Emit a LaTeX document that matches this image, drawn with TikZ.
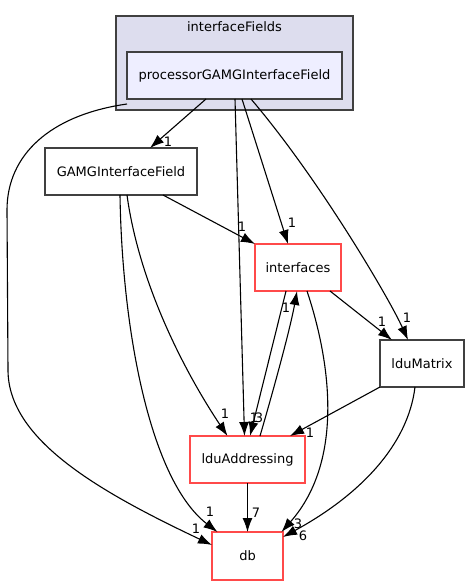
\documentclass[tikz,border=0pt]{standalone}
\usepackage{fontspec}
\setmainfont{DejaVu Sans}
\usetikzlibrary{arrows.meta}
\definecolor{clusterfill}{HTML}{DDDDEE}
\definecolor{procfill}{HTML}{EEEEFF}
\definecolor{boxgray}{HTML}{404040}
\definecolor{boxred}{HTML}{FF4A4A}

\begin{document}
\begin{tikzpicture}[x=1pt, y=-1pt,
	font=\fontsize{13}{15}\selectfont,
	dirbox/.style={draw=boxgray, line width=1.4pt, fill=white, minimum height=47pt, inner sep=0pt, outer sep=0pt},
	redbox/.style={dirbox, draw=boxred},
	lbl/.style={inner sep=0pt, font=\fontsize{13}{15}\selectfont},
	dep/.style={line width=1.1pt, -{Latex[length=14pt, width=10pt]}}]
\useasboundingbox (0,0) rectangle (470,585);

%%%%------------Cluster interfaceFields----------------%%
\node [dirbox, fill=clusterfill, minimum width=237pt, minimum height=94pt] (cluster) at (234.5,63) {}	;
\node at (234.5,27) {interfaceFields}						;
\node [dirbox, fill=procfill, minimum width=215pt] (proc) at (234.5,75.5) {processorGAMGInterfaceField}	;

%%%%------------Mapper----------------%%
\node [dirbox, minimum width=152pt] (gamg) at (121,171.5) {GAMGInterfaceField}		;
\node [redbox, minimum width=86pt] (ifaces) at (298,267.5) {interfaces}				;
\node [dirbox, minimum width=84pt] (ldumat) at (422,363.5) {lduMatrix}				;
\node [redbox, minimum width=115pt] (lduaddr) at (247.5,459.5) {lduAddressing}		;
\node [redbox, minimum width=71pt, minimum height=48pt] (db) at (247.5,556) {db}	;

%%%-------------Afhængigheder fra processorGAMGInterfaceField-------------%%%
\draw [dep]	([yshift=-5pt]proc.south west) .. controls (50,115) and (7,155) .. (7,210) -- (8,370) .. controls (8,440) and (100,492) .. ([yshift=-13pt]db.north west)	;
\draw [dep]	([xshift=-28.5pt]proc.south) -- ([xshift=29pt]gamg.north)			;
\draw [dep]	([xshift=0.5pt]proc.south) -- ([xshift=-3pt]lduaddr.north)		;
\draw [dep]	([xshift=7.5pt]proc.south) -- ([xshift=-10pt]ifaces.north)			;
\draw [dep]	([xshift=16.5pt]proc.south) .. controls (320,180) and (390,300) .. ([xshift=-14pt]ldumat.north)	;

%%%-------------Afhængigheder fra GAMGInterfaceField-------------%%%
\draw [dep]	([xshift=42pt]gamg.south) -- (ifaces.north west)						;
\draw [dep]	([xshift=6pt]gamg.south) .. controls (140,290) and (190,380) .. ([xshift=-20pt]lduaddr.north)	;
\draw [dep]	([xshift=-1pt]gamg.south) .. controls (122,330) and (150,480) .. ([xshift=-30pt]db.north)		;

%%%-------------Afhængigheder fra interfaces-------------%%%
\draw [dep]	([xshift=-12pt]ifaces.south) -- ([xshift=2.5pt]lduaddr.north)		;
\draw [dep]	([xshift=32pt]ifaces.south) -- ([xshift=-30pt]ldumat.north)		;
\draw [dep]	([xshift=9pt]ifaces.south) .. controls (330,360) and (345,460) .. ([xshift=34pt]db.north)	;

%%%-------------Afhængigheder fra lduMatrix og lduAddressing-------------%%%
\draw [dep]	(ldumat.south west) -- ([xshift=42.5pt]lduaddr.north)				;
\draw [dep]	([xshift=-7pt]ldumat.south) .. controls (408,445) and (360,495) .. ([yshift=-5pt]db.north east)	;
\draw [dep]	([xshift=12.5pt]lduaddr.north) .. controls (272,395) and (290,330) .. ([xshift=-1pt]ifaces.south)	;
\draw [dep]	(lduaddr.south) -- (db.north)										;

%%%----------Tal ved pilene---------%%%
\node [lbl] (n1) at (168,142) {1}	;
\node [lbl] (n2) at (242,227) {1}	;
\node [lbl] (n3) at (292,223) {1}	;
\node [lbl] (n4) at (407,318) {1}	;
\node [lbl] (n5) at (382,322) {1}	;
\node [lbl] (n6) at (286,308) {1}	;
\node [lbl] (n7) at (254,418) {1}	;
\node [lbl] (n8) at (259,418) {3}	;
\node [lbl] (n9) at (225,414) {1}	;
\node [lbl] (n10) at (310,433) {1}	;
\node [lbl] (n11) at (210,512) {1}	;
\node [lbl] (n12) at (196,529) {1}	;
\node [lbl] (n13) at (256,513) {7}	;
\node [lbl] (n14) at (298,524) {3}	;
\node [lbl] (n15) at (303,536) {6}	;

% \draw [help lines, step=50] (0,0) grid (470,585);
\end{tikzpicture}
\end{document}
